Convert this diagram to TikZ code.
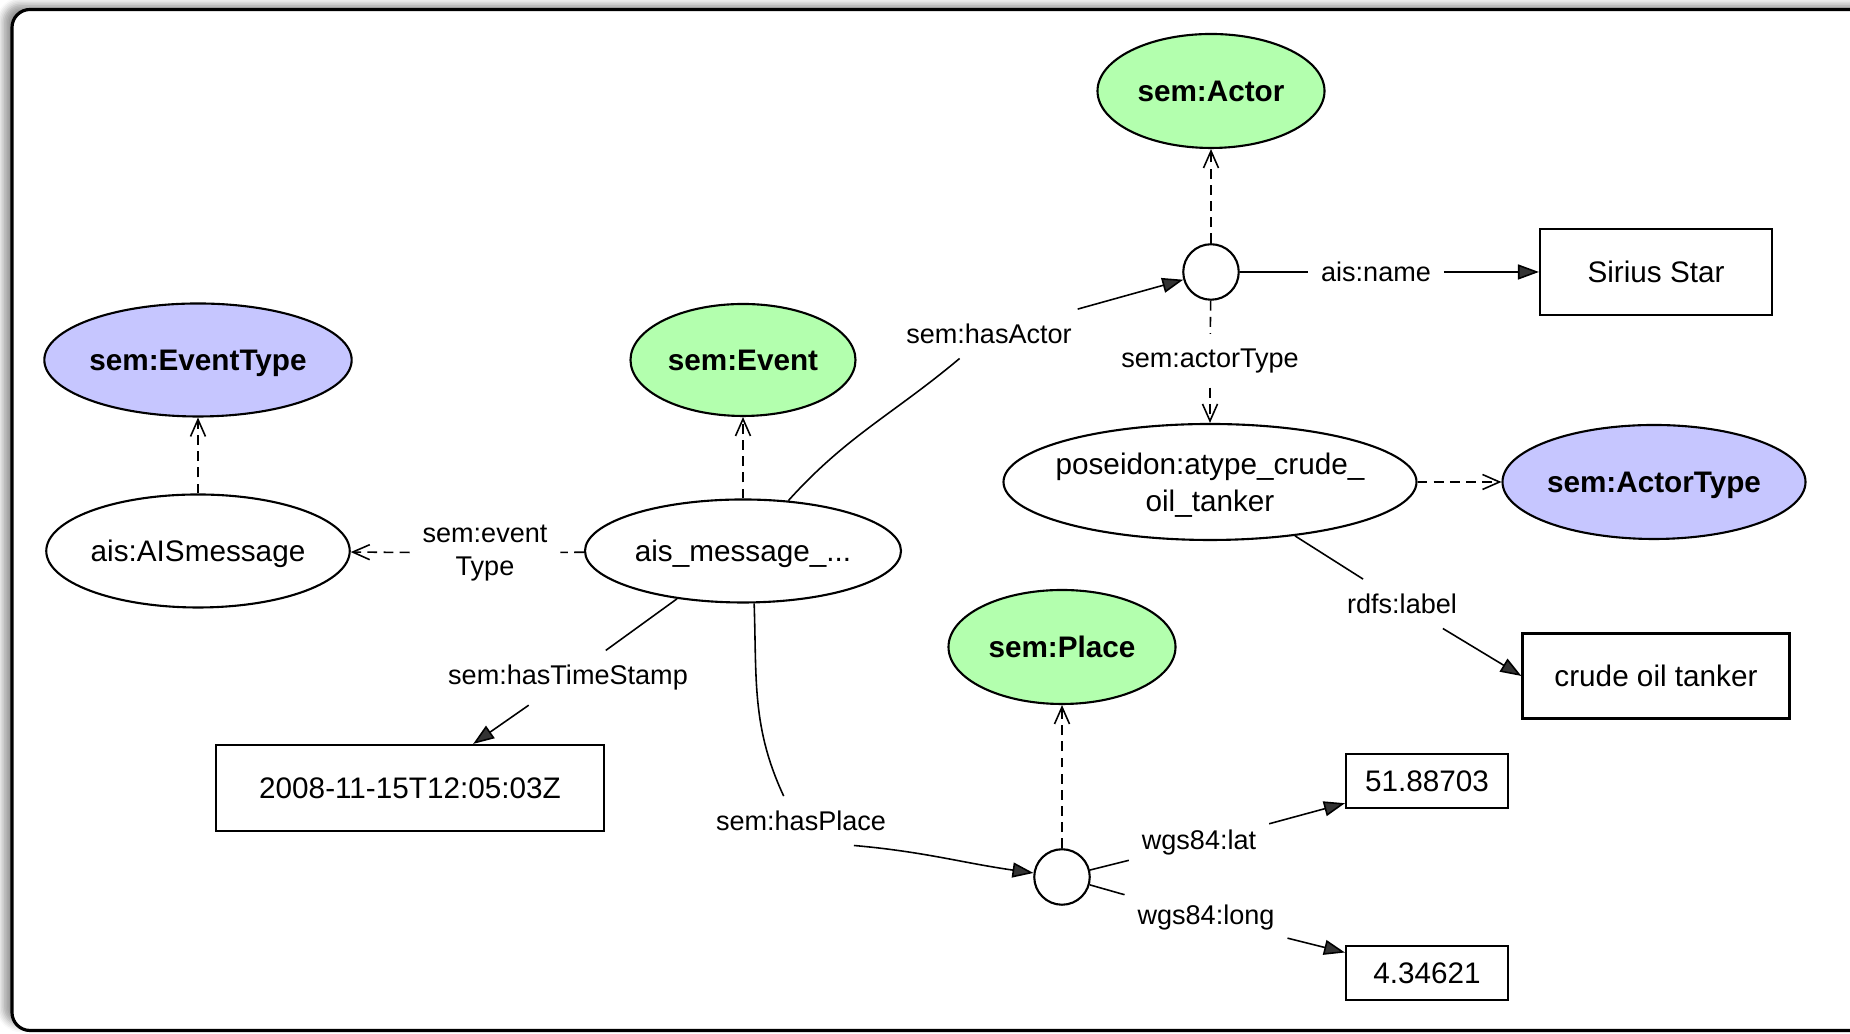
\documentclass[tikz,border=0pt]{standalone}
\usepackage{fontspec}
\setmainfont{Liberation Sans}
\usetikzlibrary{arrows.meta,shapes.geometric,shadows.blur}
\definecolor{green1}{HTML}{B3FFAE}
\definecolor{lilac1}{HTML}{C6C6FF}

\begin{document}
\begin{tikzpicture}[
    cls/.style={draw, ellipse, line width=0.6pt, inner sep=0pt, text depth=0pt,
                font=\bfseries\fontsize{8.45}{10.4}\selectfont},
    inst/.style={draw, ellipse, line width=0.6pt, inner sep=0pt, text depth=0pt,
                 align=center, font=\fontsize{8.45}{10.4}\selectfont},
    lit/.style={draw, rectangle, line width=0.6pt, inner sep=0pt, text depth=0pt,
                font=\fontsize{8.45}{10.4}\selectfont},
    bnode/.style={draw, circle, line width=0.6pt, minimum size=0.555cm, inner sep=0pt},
    lbl/.style={inner xsep=3.5pt, inner ysep=4pt, align=center, yshift=-0.8pt,
                font=\fontsize{7.7}{9.4}\selectfont},
    ln/.style={line width=0.45pt},
    rel/.style={ln, -{Triangle[length=2.1mm,width=1.5mm]}},
    dsh/.style={ln, dash pattern=on 2.8pt off 1.8pt},
    sub/.style={dsh, -{Straight Barb[length=1.7mm,width=1.5mm]}},
]
\useasboundingbox (0,0) rectangle (18.50,10.34);
\draw[line width=0.9pt, fill=white, rounded corners=0.18cm,
      blur shadow={shadow xshift=-2.5pt, shadow yshift=1.5pt,
                   shadow blur radius=2pt, shadow blur steps=5}]
      (0.12,0.035) rectangle (19.2,10.245);

% classes and resources
\node[cls, fill=green1, minimum width=2.27cm, minimum height=1.14cm] (actor) at (12.11,9.43) {sem:Actor};
\node[cls, fill=lilac1, minimum width=3.02cm, minimum height=1.13cm] (evtype) at (1.98,6.74) {sem:EventType};
\node[cls, fill=green1, minimum width=2.25cm, minimum height=1.12cm] (event) at (7.43,6.74) {sem:Event};
\node[inst, minimum width=3.02cm, minimum height=1.13cm] (aismsg) at (1.98,4.83) {ais:AISmessage};
\node[inst, minimum width=3.16cm, minimum height=1.03cm] (msg) at (7.43,4.83) {ais\_message\_...};
\node[bnode] (actorb) at (12.11,7.62) {};
\node[lit, minimum width=2.32cm, minimum height=0.86cm] (sirius) at (16.56,7.62) {Sirius Star};
\node[inst, inner xsep=-2.5pt, minimum width=4.13cm, minimum height=1.16cm] (atype) at (12.10,5.52) {poseidon:atype\_crude\_\\oil\_tanker};
\node[cls, fill=lilac1, minimum width=3.03cm, minimum height=1.14cm] (actortype) at (16.54,5.52) {sem:ActorType};
\node[cls, fill=green1, minimum width=2.27cm, minimum height=1.14cm] (place) at (10.62,3.87) {sem:Place};
\node[lit, minimum width=2.67cm, minimum height=0.85cm] (crude) at (16.56,3.58) {crude oil tanker};
\node[lit, minimum width=3.88cm, minimum height=0.86cm] (stamp) at (4.10,2.46) {2008-11-15T12:05:03Z};
\node[bnode] (placeb) at (10.62,1.57) {};
\node[lit, minimum width=1.62cm, minimum height=0.54cm] (latv) at (14.27,2.53) {51.88703};
\node[lit, minimum width=1.62cm, minimum height=0.54cm] (longv) at (14.27,0.61) {4.34621};

% edge labels
\node[lbl] (hasactor) at (9.89,7.03) {sem:hasActor};
\node[lbl, yshift=0.8pt] (aisname) at (13.76,7.62) {ais:name};
\node[lbl] (actortyp) at (12.10,6.76) {sem:actorType};
\node[lbl] (rdfslbl) at (14.02,4.33) {rdfs:label};
\node[lbl] (hasstamp) at (5.68,3.59) {sem:hasTimeStamp};
\node[lbl] (hasplace) at (8.01,2.16) {sem:hasPlace};
\node[lbl] (wgslat) at (11.99,1.94) {wgs84:lat};
\node[lbl] (wgslong) at (12.06,1.19) {wgs84:long};
\node[lbl, yshift=0.8pt] (evtypelbl) at (4.85,4.81) {sem:event\\Type};

% types
\draw[sub] (aismsg) -- (evtype);
\draw[sub] (msg) -- (event);
\draw[sub] (actorb) -- (actor);
\draw[sub] (placeb) -- (place);
\draw[sub] (atype) -- (actortype);
\draw[dsh] (msg) -- (evtypelbl);
\draw[sub] (evtypelbl) -- (aismsg);
\draw[dsh] (actorb) -- (actortyp);
\draw[sub] (actortyp) -- (atype);

% properties
\draw[ln] (msg) to[out=48,in=-140] (hasactor);
\draw[rel] (hasactor) -- (actorb);
\draw[ln] (actorb) -- (aisname);
\draw[rel] (aisname) -- (sirius);
\draw[ln] (atype) -- (rdfslbl);
\draw[rel] (rdfslbl) -- (crude.west);
\draw[ln] (msg) -- (hasstamp);
\draw[rel] (hasstamp) -- (stamp);
\draw[ln] (msg.-78) to[out=-88,in=115] (hasplace.125);
\draw[rel] (hasplace.-25) to[out=-5,in=172] (placeb);
\draw[ln] (placeb) -- (wgslat);
\draw[rel] (wgslat) -- (latv);
\draw[ln] (placeb) -- (wgslong);
\draw[rel] (wgslong) -- (longv);
\end{tikzpicture}
\end{document}
